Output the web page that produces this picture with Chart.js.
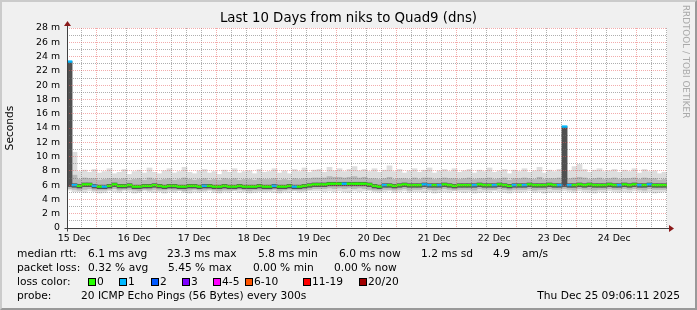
<!DOCTYPE html>
<html>
<head>
<meta charset="utf-8">
<script src="https://cdn.jsdelivr.net/npm/chart.js@4.4.1/dist/chart.umd.min.js"></script>
<style>
body { margin: 0; }
#wrap { position: relative; width: 697px; height: 310px; background: #f0f0f0; font-family: 'DejaVu Sans'; color: #000; overflow: hidden; }
#wrap canvas { position: absolute; left: 0; top: 0; }
.frame { position: absolute; left: 0; top: 0; right: 0; bottom: 0; border: 2px solid; border-color: #cbcbcb #999 #999 #cbcbcb; pointer-events: none; }
.title { position: absolute; left: 0; width: 697px; top: 10px; text-align: center; font-size: 13.33px; line-height: 16px; }
.wm { position: absolute; left: 681px; top: 5px; writing-mode: vertical-rl; font-size: 8.8px; color: #aaa; }
.t { position: absolute; white-space: pre; font-size: 10.67px; line-height: 14px; }
.box { position: absolute; width: 8px; height: 8px; box-sizing: border-box; border: 1px solid #000; top: 278px; }
</style>
</head>
<body>
<div id="wrap">
  <canvas id="chart" width="697" height="310"></canvas>
  <div class="title">Last 10 Days from niks to Quad9 (dns)</div>
  <div class="wm">RRDTOOL / TOBI OETIKER</div>

  <span class="t" style="left:17px;top:247px">median rtt:</span>
  <span class="t" style="left:88px;top:247px">6.1 ms avg</span>
  <span class="t" style="left:167px;top:247px">23.3 ms max</span>
  <span class="t" style="left:258px;top:247px">5.8 ms min</span>
  <span class="t" style="left:339px;top:247px">6.0 ms now</span>
  <span class="t" style="left:421px;top:247px">1.2 ms sd</span>
  <span class="t" style="left:493px;top:247px">4.9</span>
  <span class="t" style="left:522px;top:247px">am/s</span>

  <span class="t" style="left:17px;top:261px">packet loss:</span>
  <span class="t" style="left:88px;top:261px">0.32 % avg</span>
  <span class="t" style="left:168px;top:261px">5.45 % max</span>
  <span class="t" style="left:253px;top:261px">0.00 % min</span>
  <span class="t" style="left:334px;top:261px">0.00 % now</span>

  <span class="t" style="left:17px;top:275px">loss color:</span>
  <span class="box" style="left:88px;background:#26ff00"></span><span class="t" style="left:97px;top:275px">0</span>
  <span class="box" style="left:119px;background:#00b8ff"></span><span class="t" style="left:128px;top:275px">1</span>
  <span class="box" style="left:151px;background:#0059ff"></span><span class="t" style="left:160px;top:275px">2</span>
  <span class="box" style="left:182px;background:#7e00ff"></span><span class="t" style="left:191px;top:275px">3</span>
  <span class="box" style="left:213px;background:#ff00ff"></span><span class="t" style="left:222px;top:275px">4-5</span>
  <span class="box" style="left:245px;background:#ff5500"></span><span class="t" style="left:254px;top:275px">6-10</span>
  <span class="box" style="left:303px;background:#ff0000"></span><span class="t" style="left:312px;top:275px">11-19</span>
  <span class="box" style="left:359px;background:#a10000"></span><span class="t" style="left:368px;top:275px">20/20</span>

  <span class="t" style="left:17px;top:289px">probe:</span>
  <span class="t" style="left:81px;top:289px">20 ICMP Echo Pings (56 Bytes) every 300s</span>
  <span class="t" style="right:17px;top:289px">Thu Dec 25 09:06:11 2025</span>

  <div class="frame"></div>
</div>
<script>
// day labels sit on noon, grid lines every 6 hours, red at midnight
const dayLabels = ['15 Dec', '16 Dec', '17 Dec', '18 Dec', '19 Dec', '20 Dec', '21 Dec', '22 Dec', '23 Dec', '24 Dec'];
const startHour = 9.1;   // 15 Dec 09:06, hours after 15 Dec 00:00
const binHours = 2;

// median rtt per 2h bin (ms)
const median = [
  23.3, 6.0, 5.9, 6.1, 6.1, 5.9, 5.8, 5.8, 5.9, 6.1,
  5.9, 5.9, 6.0, 5.8, 5.8, 5.9, 5.9, 6.0, 5.9, 5.8,
  5.9, 5.9, 5.8, 5.8, 5.9, 5.9, 5.8, 5.9, 5.9, 5.8,
  5.8, 5.9, 5.8, 5.8, 5.9, 5.8, 5.8, 5.8, 5.9, 5.8,
  5.8, 5.9, 5.8, 5.8, 5.9, 5.8, 5.8, 5.9, 6.0, 6.1,
  6.1, 6.1, 6.2, 6.2, 6.2, 6.2, 6.2, 6.2, 6.2, 6.2,
  6.1, 5.9, 5.8, 6.0, 6.0, 5.9, 6.0, 6.1, 6.0, 6.0,
  6.0, 6.1, 6.0, 6.0, 6.0, 6.1, 6.0, 5.9, 6.0, 6.0,
  6.0, 6.0, 6.1, 6.0, 6.0, 6.0, 6.1, 6.0, 5.9, 6.0,
  6.0, 6.0, 6.1, 6.0, 6.0, 6.0, 6.1, 6.0, 6.0, 14.2,
  6.0, 6.0, 6.1, 6.0, 6.1, 6.0, 6.0, 6.0, 6.1, 6.0,
  6.0, 6.1, 6.0, 6.1, 6.0, 6.0, 6.1, 6.0, 6.0, 6.0
];
// lost pings (of 20) per bin
const loss = [
  1, 1, 0, 0, 0, 1, 0, 1, 0, 0,
  0, 0, 0, 0, 0, 0, 0, 0, 0, 0,
  0, 0, 0, 0, 0, 0, 0, 1, 0, 0,
  0, 0, 0, 0, 0, 0, 0, 0, 0, 0,
  0, 1, 0, 0, 0, 1, 0, 0, 0, 0,
  0, 0, 0, 0, 0, 1, 0, 0, 0, 0,
  0, 0, 0, 1, 0, 0, 0, 0, 0, 0,
  0, 1, 1, 0, 1, 0, 0, 0, 0, 0,
  0, 1, 0, 0, 0, 1, 0, 0, 0, 1,
  0, 1, 0, 0, 0, 0, 0, 0, 1, 1,
  1, 0, 0, 0, 0, 0, 0, 0, 0, 0,
  1, 0, 0, 0, 1, 0, 1, 0, 0, 0
];
// smoke: spread of the 20 pings per bin (ms)
const smokeMin = [
  5.3, 5.1, 5.1, 5.0, 5.2, 5.1, 4.9, 5.0, 5.2, 5.1,
  5.0, 5.2, 5.1, 4.9, 5.0, 5.2, 5.1, 5.0, 5.1, 4.9,
  5.1, 5.0, 5.2, 5.0, 4.9, 5.1, 5.0, 5.1, 5.2, 5.0,
  4.9, 5.1, 5.0, 5.2, 5.0, 5.1, 4.9, 5.0, 5.1, 5.0,
  5.1, 5.0, 4.9, 5.1, 5.0, 5.2, 5.0, 5.1, 5.2, 5.2,
  5.2, 5.1, 5.2, 5.1, 5.2, 5.1, 5.0, 5.2, 5.1, 5.2,
  5.2, 5.1, 5.0, 5.1, 5.2, 5.0, 5.1, 5.2, 5.0, 5.1,
  5.1, 5.0, 5.1, 4.9, 5.0, 5.1, 5.0, 5.2, 5.1, 5.0,
  5.1, 4.9, 5.0, 5.1, 5.0, 5.2, 5.1, 5.0, 4.9, 5.1,
  5.0, 5.1, 5.2, 5.0, 5.1, 4.9, 5.0, 5.1, 5.0, 5.2,
  5.1, 5.0, 5.2, 5.1, 5.0, 4.9, 5.1, 5.0, 5.2, 5.1,
  5.0, 5.1, 5.0, 5.2, 5.1, 5.0, 5.1, 4.9, 5.0, 5.1
];
const smokeLo = [
  5.5, 5.4, 5.3, 5.4, 5.5, 5.3, 5.3, 5.3, 5.4, 5.5,
  5.3, 5.4, 5.4, 5.3, 5.2, 5.4, 5.3, 5.4, 5.3, 5.3,
  5.4, 5.3, 5.3, 5.2, 5.3, 5.4, 5.3, 5.3, 5.4, 5.3,
  5.2, 5.3, 5.3, 5.3, 5.4, 5.3, 5.2, 5.3, 5.3, 5.3,
  5.3, 5.4, 5.2, 5.3, 5.4, 5.3, 5.3, 5.3, 5.4, 5.5,
  5.5, 5.5, 5.6, 5.5, 5.6, 5.5, 5.6, 5.5, 5.6, 5.5,
  5.4, 5.3, 5.3, 5.4, 5.4, 5.3, 5.4, 5.5, 5.3, 5.4,
  5.4, 5.5, 5.4, 5.3, 5.4, 5.5, 5.4, 5.3, 5.4, 5.4,
  5.4, 5.3, 5.5, 5.4, 5.4, 5.4, 5.5, 5.4, 5.3, 5.4,
  5.4, 5.4, 5.5, 5.3, 5.4, 5.4, 5.5, 5.4, 5.4, 5.5,
  5.4, 5.3, 5.5, 5.4, 5.4, 5.3, 5.4, 5.4, 5.5, 5.4,
  5.4, 5.5, 5.4, 5.5, 5.4, 5.3, 5.5, 5.4, 5.4, 5.4
];
const coreLo = [
  5.8, 5.7, 5.6, 5.8, 5.8, 5.6, 5.5, 5.5, 5.6, 5.8,
  5.6, 5.6, 5.7, 5.5, 5.5, 5.6, 5.6, 5.7, 5.6, 5.5,
  5.6, 5.6, 5.5, 5.5, 5.6, 5.6, 5.5, 5.6, 5.6, 5.5,
  5.5, 5.6, 5.5, 5.5, 5.6, 5.5, 5.5, 5.5, 5.6, 5.5,
  5.5, 5.6, 5.5, 5.5, 5.6, 5.5, 5.5, 5.6, 5.7, 5.8,
  5.8, 5.8, 5.9, 5.9, 5.9, 5.9, 5.9, 5.9, 5.9, 5.9,
  5.8, 5.6, 5.5, 5.7, 5.7, 5.6, 5.7, 5.8, 5.7, 5.7,
  5.7, 5.8, 5.7, 5.7, 5.7, 5.8, 5.7, 5.6, 5.7, 5.7,
  5.7, 5.7, 5.8, 5.7, 5.7, 5.7, 5.8, 5.7, 5.6, 5.7,
  5.7, 5.7, 5.8, 5.7, 5.7, 5.7, 5.8, 5.7, 5.7, 5.8,
  5.7, 5.7, 5.8, 5.7, 5.8, 5.7, 5.7, 5.7, 5.8, 5.7,
  5.7, 5.8, 5.7, 5.8, 5.7, 5.7, 5.8, 5.7, 5.7, 5.7
];
const coreHi = [
  23.3, 6.2, 6.1, 6.3, 6.3, 6.1, 6.0, 6.0, 6.1, 6.3,
  6.1, 6.1, 6.2, 6.0, 6.0, 6.1, 6.1, 6.2, 6.1, 6.0,
  6.1, 6.1, 6.0, 6.0, 6.1, 6.1, 6.0, 6.1, 6.1, 6.0,
  6.0, 6.1, 6.0, 6.0, 6.1, 6.0, 6.0, 6.0, 6.1, 6.0,
  6.0, 6.1, 6.0, 6.0, 6.1, 6.0, 6.0, 6.1, 6.2, 6.3,
  6.3, 6.3, 6.4, 6.4, 6.4, 6.4, 6.4, 6.4, 6.4, 6.4,
  6.3, 6.1, 6.0, 6.2, 6.2, 6.1, 6.2, 6.3, 6.2, 6.2,
  6.2, 6.3, 6.2, 6.2, 6.2, 6.3, 6.2, 6.1, 6.2, 6.2,
  6.2, 6.2, 6.3, 6.2, 6.2, 6.2, 6.3, 6.2, 6.1, 6.2,
  6.2, 6.2, 6.3, 6.2, 6.2, 6.2, 6.3, 6.2, 6.2, 14.2,
  6.2, 6.2, 6.3, 6.2, 6.3, 6.2, 6.2, 6.2, 6.3, 6.2,
  6.2, 6.3, 6.2, 6.3, 6.2, 6.2, 6.3, 6.2, 6.2, 6.2
];
const smokeHi = [
  23.3, 7.4, 6.8, 7.0, 6.9, 6.9, 6.7, 6.8, 6.9, 6.9,
  6.8, 6.9, 6.7, 6.8, 6.9, 6.7, 7.0, 6.8, 6.7, 6.8,
  6.9, 6.7, 6.8, 7.0, 6.8, 6.7, 6.8, 6.9, 6.7, 6.8,
  6.7, 6.9, 6.8, 6.9, 6.7, 6.8, 6.8, 6.7, 6.9, 6.8,
  6.8, 6.9, 6.7, 6.8, 6.7, 6.9, 6.8, 6.9, 6.9, 7.0,
  7.0, 7.0, 7.2, 7.1, 7.1, 7.0, 7.1, 7.2, 7.0, 7.1,
  6.9, 6.9, 6.8, 6.9, 7.1, 6.8, 6.9, 6.9, 6.8, 7.0,
  6.8, 7.0, 7.0, 6.8, 6.9, 7.0, 6.9, 6.9, 6.8, 6.9,
  7.0, 6.8, 6.9, 6.9, 7.0, 6.8, 6.9, 7.0, 6.7, 6.9,
  6.9, 7.0, 6.9, 6.8, 7.1, 6.8, 6.9, 6.9, 7.0, 14.2,
  6.9, 7.0, 7.1, 7.0, 6.8, 6.9, 7.0, 6.8, 6.9, 7.0,
  6.8, 6.9, 6.9, 7.0, 6.8, 7.0, 6.9, 6.9, 6.7, 6.8
];
const smokeMax = [
  23.3, 10.6, 7.9, 8.1, 7.8, 8.2, 7.7, 7.9, 8.3, 7.6,
  7.8, 8.2, 7.5, 7.9, 8.1, 7.7, 8.4, 7.8, 7.6, 8.0,
  8.3, 7.7, 7.9, 8.5, 7.8, 7.6, 8.0, 8.2, 7.7, 7.9,
  7.5, 8.1, 7.8, 8.3, 7.7, 7.9, 8.0, 7.6, 8.2, 7.8,
  7.9, 8.3, 7.7, 8.0, 7.6, 8.2, 7.9, 8.4, 7.8, 8.1,
  8.2, 7.8, 8.5, 8.0, 8.3, 7.9, 8.2, 8.6, 8.0, 8.2,
  7.9, 8.3, 7.8, 8.1, 8.7, 7.9, 8.2, 7.7, 8.0, 8.3,
  7.8, 8.1, 8.4, 7.7, 8.0, 8.2, 7.9, 8.3, 7.8, 8.0,
  8.2, 7.7, 8.1, 7.9, 8.4, 7.8, 8.0, 8.2, 7.6, 8.1,
  7.9, 8.3, 7.8, 8.0, 8.5, 7.7, 8.1, 7.9, 8.2, 14.2,
  8.0, 8.6, 8.9, 8.2, 7.8, 8.1, 8.3, 7.9, 8.0, 8.2,
  7.8, 8.1, 7.9, 8.3, 7.7, 8.2, 7.9, 8.0, 7.6, 7.8
];

const lossColors = ['#26ff00', '#00b8ff', '#0059ff', '#7e00ff', '#ff00ff', '#ff5500', '#ff0000', '#a10000'];
function lossColor(n) {
  if (n <= 3) return lossColors[n];
  if (n <= 5) return lossColors[4];
  if (n <= 10) return lossColors[5];
  if (n < 20) return lossColors[6];
  return lossColors[7];
}

const GRID = 'rgba(110,110,110,0.55)';
const MGRID = 'rgba(230,90,90,0.5)';
const font = { family: 'DejaVu Sans', size: 9.33 };

const endHour = startHour + binHours * median.length;
const binX = median.map((v, i) => startHour + binHours * (i + 0.5));
const tickHours = [];
for (let h = 12; h < endHour; h += 6) tickHours.push(h);

function band(lo, hi) {
  return binX.map((x, i) => ({ x: x, y: [lo[i], hi[i]] }));
}
const barBase = { type: 'bar', grouped: false, barPercentage: 1, categoryPercentage: 1, borderWidth: 0 };

const rrdFrame = {
  id: 'rrdFrame',
  beforeDraw(chart) {
    const { ctx, chartArea: a } = chart;
    ctx.save();
    ctx.fillStyle = '#fff';
    ctx.fillRect(a.left, a.top, a.right - a.left, a.bottom - a.top);
    ctx.restore();
  },
  afterDraw(chart) {
    const { ctx, chartArea: a } = chart;
    const x0 = Math.round(a.left) + 0.5, y0 = Math.round(a.bottom) + 0.5;
    ctx.save();
    ctx.strokeStyle = '#404040';
    ctx.lineWidth = 1;
    ctx.beginPath();
    ctx.moveTo(x0 - 3, y0); ctx.lineTo(a.right + 3, y0);
    ctx.moveTo(x0, y0 + 3); ctx.lineTo(x0, a.top - 3);
    ctx.stroke();
    ctx.fillStyle = '#8b1a1a';
    ctx.beginPath();
    ctx.moveTo(x0 - 3.5, a.top - 2); ctx.lineTo(x0 + 3.5, a.top - 2); ctx.lineTo(x0, a.top - 7); ctx.closePath();
    ctx.fill();
    ctx.beginPath();
    ctx.moveTo(a.right + 2, y0 - 3.5); ctx.lineTo(a.right + 2, y0 + 3.5); ctx.lineTo(a.right + 7, y0); ctx.closePath();
    ctx.fill();
    ctx.restore();
  }
};

new Chart(document.getElementById('chart'), {
  data: {
    datasets: [
      Object.assign({}, barBase, { data: binX.map((x, i) => ({ x: x, y: [median[i] - 0.12, median[i] + 0.12] })), backgroundColor: loss.map(lossColor) }),
      Object.assign({}, barBase, { data: band(coreLo, coreHi), backgroundColor: '#505050' }),
      Object.assign({}, barBase, { data: band(smokeLo, smokeHi), backgroundColor: '#b8b8b8' }),
      Object.assign({}, barBase, { data: band(smokeMin, smokeMax), backgroundColor: '#dddddd' })
    ]
  },
  options: {
    responsive: false,
    animation: false,
    events: [],
    layout: { padding: { left: 0, top: 28, right: 30, bottom: 0 } },
    plugins: { legend: { display: false }, tooltip: { enabled: false }, title: { display: false } },
    scales: {
      x: {
        type: 'linear', min: startHour, max: endHour, offset: false,
        afterBuildTicks: s => { s.ticks = tickHours.map(v => ({ value: v })); },
        afterFit: s => { s.height = 82; },
        grid: { color: c => (c.tick && c.tick.value % 24 === 0) ? MGRID : GRID, drawTicks: false, z: 1 },
        border: { display: false, dash: [1, 1] },
        ticks: { autoSkip: false, maxRotation: 0, padding: 5, font: font, color: '#000',
          callback: v => v % 24 === 12 ? dayLabels[(v - 12) / 24] : '' }
      },
      y: {
        min: 0, max: 28,
        afterFit: s => { s.width = 67; },
        grid: { color: c => (c.tick && c.tick.value % 2 === 0) ? MGRID : GRID, drawTicks: false, z: 1 },
        border: { display: false, dash: [1, 1] },
        ticks: { stepSize: 1, autoSkip: false, padding: 7, font: font, color: '#000',
          callback: v => v % 2 ? '' : (v ? v + ' m' : '0') },
        title: { display: true, text: 'Seconds', color: '#000', font: { family: 'DejaVu Sans', size: 10.67 }, padding: { top: 4, bottom: 4 } }
      }
    }
  },
  plugins: [rrdFrame]
});
</script>
</body>
</html>
